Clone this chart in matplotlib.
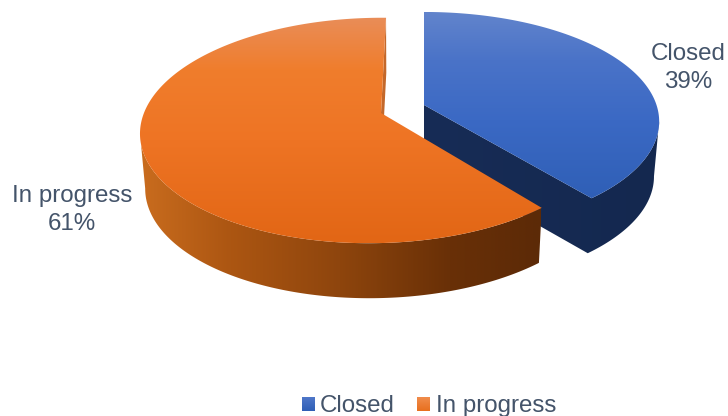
import numpy as np
import matplotlib
matplotlib.use("Agg")
import matplotlib.pyplot as plt
from matplotlib.colors import LinearSegmentedColormap
from matplotlib.patches import Polygon

# Chart data
categories = ["Closed", "In progress"]
shares = [39, 61]

TEXT_COLOR = "#44546a"
plt.rcParams["font.family"] = ["Liberation Sans", "DejaVu Sans"]

W, H = 728, 416
DEPTH = 55          # thickness of the pie on screen
VANISH_X = 400      # the lower rim draws in toward this x
RIM_SHRINK = 0.02

# Perspective set-up of each exploded slice: apex and projected disc radii
slices = {
    "Closed": dict(cx=424, cy=105, a=232.5, b=107, k=0.15, m=0.0, s=0.0),
    "In progress": dict(cx=381, cy=113, a=232.3, b=110, k=0.155, m=0.02, s=5.8),
}

top_stops = {
    "Closed": [(12, "#6284cc"), (60, "#4a73c8"), (120, "#3b69c4"), (200, "#2f5fb6")],
    "In progress": [(17, "#e98d58"), (70, "#f07d2c"), (140, "#ee7424"), (243, "#e26615")],
}
side_stops = {
    "Closed": [(424, "#172c56"), (660, "#14284f")],
    "In progress": [(141, "#c96c1e"), (230, "#ac5612"), (340, "#8e450d"),
                    (450, "#693007"), (541, "#5c2a07")],
}


def project(name, theta):
    """Map an angle (clockwise from 12 o'clock) onto the tilted disc."""
    p = slices[name]
    u, v = np.sin(theta), np.cos(theta)
    den = 1 + p["k"] * v + p["m"] * u
    return p["cx"] + (p["a"] * u + p["s"] * v) / den, p["cy"] - p["b"] * v / den


def lower(pts):
    """Same outline on the underside of the pie."""
    pts = np.asarray(pts, dtype=float)
    out = pts.copy()
    out[:, 0] += RIM_SHRINK * (VANISH_X - pts[:, 0])
    out[:, 1] += DEPTH
    return out


def fill_gradient(ax, pts, stops, vertical=True, zorder=2):
    """Fill a polygon with a linear colour ramp."""
    lo, hi = stops[0][0], stops[-1][0]
    cmap = LinearSegmentedColormap.from_list(
        "ramp", [((pos - lo) / (hi - lo), col) for pos, col in stops])
    pts = np.asarray(pts)
    ramp = np.linspace(0, 1, 256)
    if vertical:
        data = ramp[:, None]
        extent = (pts[:, 0].min() - 2, pts[:, 0].max() + 2, hi, lo)
    else:
        data = ramp[None, :]
        extent = (lo, hi, pts[:, 1].max() + 2, pts[:, 1].min() - 2)
    patch = Polygon(pts, closed=True, facecolor="none", edgecolor="none")
    ax.add_patch(patch)
    im = ax.imshow(data, cmap=cmap, extent=extent, origin="upper", aspect="auto",
                   interpolation="bilinear", zorder=zorder, vmin=0, vmax=1)
    im.set_clip_path(patch)
    return im


fig = plt.figure(figsize=(W / 100, H / 100), dpi=100)
ax = fig.add_axes([0, 0, 1, 1])

total = sum(shares)
boundary = 2 * np.pi * np.cumsum([0] + shares) / total
arcs = {}
for i, name in enumerate(categories):
    t = np.linspace(boundary[i], boundary[i + 1], 400)
    arcs[name] = np.column_stack(project(name, t))

# Closed slice: rim and cut face as one outline, then the top
name = "Closed"
arc = arcs[name]
apex = np.array([[slices[name]["cx"], slices[name]["cy"]]], dtype=float)
rim = arc[np.argmax(arc[:, 0]):]
shell = np.vstack([rim, apex, lower(apex), lower(rim)[::-1]])
fill_gradient(ax, shell, side_stops[name], False, 1)
fill_gradient(ax, np.vstack([apex, arc, apex]), top_stops[name], True, 2)

# In-progress slice: narrow inner wall, rim, then the top
name = "In progress"
arc = arcs[name]
apex = np.array([[slices[name]["cx"], slices[name]["cy"]]], dtype=float)
wall = np.vstack([apex, arc[-1:], lower(arc[-1:]), lower(apex)])
ax.add_patch(Polygon(wall, closed=True, facecolor="#c4682a", edgecolor="none", zorder=3))
rim = arc[:np.argmin(arc[:, 0]) + 1]
fill_gradient(ax, np.vstack([rim, lower(rim)[::-1]]), side_stops[name], False, 4)
fill_gradient(ax, np.vstack([apex, arc, apex]), top_stops[name], True, 5)

# Slice labels
label_pos = {"Closed": (688, 68), "In progress": (72, 210)}
for name, share in zip(categories, shares):
    ax.text(*label_pos[name], f"{name}\n{share}%", ha="center", va="center",
            fontsize=17.4, color=TEXT_COLOR, linespacing=1.3, zorder=6)

# Legend along the bottom edge
swatch_stops = {
    "Closed": [(397, "#4f77c9"), (411, "#2f5fb6")],
    "In progress": [(397, "#f08c4c"), (411, "#e8701e")],
}
swatch_x = {"Closed": 302, "In progress": 417}
text_x = {"Closed": 320, "In progress": 436}
for name in categories:
    x0 = swatch_x[name]
    box = [(x0, 397), (x0 + 13, 397), (x0 + 13, 411), (x0, 411)]
    fill_gradient(ax, box, swatch_stops[name], True, 6)
    ax.text(text_x[name], 412, name, ha="left", va="baseline",
            fontsize=17.4, color=TEXT_COLOR, zorder=6)

ax.set_xlim(0, W)
ax.set_ylim(H, 0)
ax.axis("off")
fig.savefig("out.png", dpi=100, facecolor="white")
